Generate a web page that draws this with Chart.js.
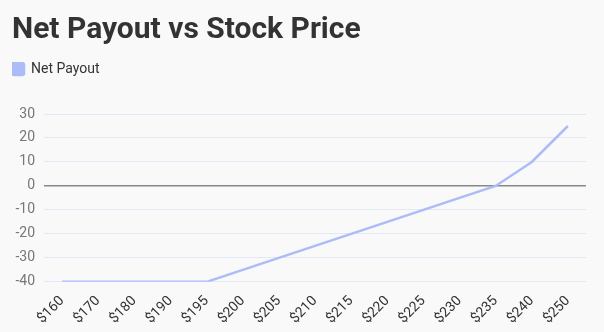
<!DOCTYPE html>
<html>
<head>
<meta charset="utf-8">
<script src="https://cdn.jsdelivr.net/npm/chart.js@4"></script>
<style>
  html, body { margin: 0; padding: 0; background: #f9f9fa; }
  #wrap { width: 604px; height: 332px; }
</style>
</head>
<body>
<div id="wrap"><canvas id="payoutChart"></canvas></div>
<script>
const stockPrices = ['$160', '$170', '$180', '$190', '$195', '$200', '$205', '$210', '$215', '$220', '$225', '$230', '$235', '$240', '$250']
const netPayout = [-40, -40, -40, -40, -40, -35, -30, -25, -20, -15, -10, -5, 0, 10, 25]
const yTicks = [30, 20, 10, 0, -10, -20, -30, -40]

const lineColor = 'rgb(172, 188, 248)'

// push the plot down a bit under the legend
const legendGap = {
    id: 'legendGap',
    beforeInit(chart) {
        const fit = chart.legend.fit
        chart.legend.fit = function () {
            fit.bind(chart.legend)()
            this.height += 28
        }
    }
}

let ctx = document.getElementById('payoutChart').getContext('2d')
new Chart(ctx, {
    type: 'line',
    data: {
        labels: stockPrices,
        datasets: [{
            label: 'Net Payout',
            data: netPayout,
            borderColor: lineColor,
            backgroundColor: lineColor,
            borderWidth: 2.5,
            pointRadius: 0,
            tension: 0
        }]
    },
    options: {
        responsive: true,
        maintainAspectRatio: false,
        animation: false,
        layout: { padding: { left: 12, right: 18, bottom: 2 } },
        plugins: {
            title: {
                display: true,
                text: 'Net Payout vs Stock Price',
                align: 'start',
                color: '#333',
                font: { family: 'Roboto', size: 30, weight: 'bold' },
                padding: { top: 12, bottom: 14 }
            },
            legend: {
                align: 'start',
                labels: {
                    color: '#333',
                    font: { family: 'Roboto', size: 14 },
                    boxWidth: 12,
                    boxHeight: 12,
                    useBorderRadius: true,
                    borderRadius: 2,
                    padding: 0
                }
            },
            tooltip: { enabled: false }
        },
        scales: {
            x: {
                offset: true,
                grid: { display: false },
                border: { display: false },
                // rotated first label may hang left, don't shrink the plot for it
                afterFit: axis => { axis.paddingLeft = 0 },
                ticks: {
                    color: '#333',
                    font: { family: 'Roboto', size: 14 },
                    maxRotation: 45,
                    minRotation: 45,
                    autoSkip: false
                }
            },
            y: {
                min: -40,
                max: 30,
                afterBuildTicks: axis => { axis.ticks = yTicks.map(v => ({ value: v })) },
                afterFit: axis => { axis.width = 32 },
                border: { display: false },
                grid: {
                    color: c => c.tick.value === 0 ? '#888' : '#e3e8f4',
                    lineWidth: c => c.tick.value === 0 ? 1.5 : 1,
                    drawTicks: false
                },
                ticks: {
                    color: '#777',
                    font: { family: 'Roboto', size: 14 },
                    padding: 9
                }
            }
        }
    },
    plugins: [legendGap]
})
</script>
</body>
</html>
